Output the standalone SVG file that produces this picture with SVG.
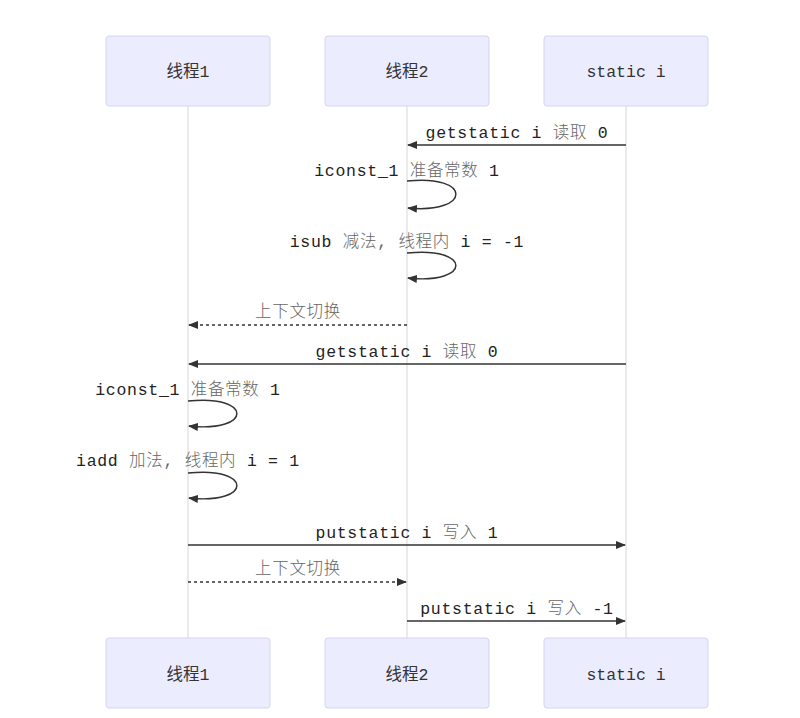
<svg xmlns="http://www.w3.org/2000/svg" width="800" height="718" viewBox="0 0 800 718">
<style>
.box{fill:#ececff;stroke:#d4d4f0;stroke-width:1}
.life{stroke:#d6d6d6;stroke-width:1}
.t{font-family:"Liberation Mono","Noto Sans CJK SC",monospace;font-size:16.5px;fill:#222;text-anchor:middle;letter-spacing:0.7px}
.t .c{fill:#666;font-weight:300}
.h{font-family:"Liberation Mono","Noto Sans CJK SC",monospace;font-size:16.5px;fill:#333;text-anchor:middle}
.m{stroke:#333;stroke-width:1.5;fill:none;marker-end:url(#a)}
.d{stroke-dasharray:3,3}
</style>
<defs><marker id="a" markerWidth="10" markerHeight="8" refX="9" refY="4" orient="auto" markerUnits="userSpaceOnUse"><path d="M0,0L10,4L0,8z" fill="#333"/></marker></defs>
<rect width="800" height="718" fill="#fff"/>
<g id="lifelines">
<line class="life" x1="188" y1="106" x2="188" y2="638"/>
<line class="life" x1="407" y1="106" x2="407" y2="638"/>
<line class="life" x1="626" y1="106" x2="626" y2="638"/>
</g>
<g id="t1-top"><rect class="box" x="106" y="36" width="164" height="70" rx="3"/><text class="h" x="188" y="77">线程1</text></g>
<g id="t2-top"><rect class="box" x="325" y="36" width="164" height="70" rx="3"/><text class="h" x="407" y="77">线程2</text></g>
<g id="s-top"><rect class="box" x="544" y="36" width="164" height="70" rx="3"/><text class="h" x="626" y="77">static i</text></g>
<g id="t1-bot"><rect class="box" x="106" y="638" width="164" height="70" rx="3"/><text class="h" x="188" y="680">线程1</text></g>
<g id="t2-bot"><rect class="box" x="325" y="638" width="164" height="70" rx="3"/><text class="h" x="407" y="680">线程2</text></g>
<g id="s-bot"><rect class="box" x="544" y="638" width="164" height="70" rx="3"/><text class="h" x="626" y="680">static i</text></g>
<g id="connectors">
<path class="m" d="M626,145H408"/>
<path class="m" d="M407,181C472,174 472,214 408,208"/>
<path class="m" d="M407,253C472,246 472,285 408,278"/>
<path class="m d" d="M407,325H189"/>
<path class="m" d="M626,364H189"/>
<path class="m" d="M188,401C253,394 253,433 189,426"/>
<path class="m" d="M188,473C253,466 253,505 189,498"/>
<path class="m" d="M188,545H625"/>
<path class="m d" d="M188,582H406"/>
<path class="m" d="M407,621H625"/>
</g>
<g id="labels">
<text class="t" x="517" y="138">getstatic i <tspan class="c">读取</tspan> 0</text>
<text class="t" x="407" y="176">iconst_1 <tspan class="c">准备常数</tspan> 1</text>
<text class="t" x="407" y="247">isub <tspan class="c">减法, 线程内</tspan> i = -1</text>
<text class="t" x="298" y="317"><tspan class="c">上下文切换</tspan></text>
<text class="t" x="407" y="357">getstatic i <tspan class="c">读取</tspan> 0</text>
<text class="t" x="188" y="395">iconst_1 <tspan class="c">准备常数</tspan> 1</text>
<text class="t" x="188" y="466">iadd <tspan class="c">加法, 线程内</tspan> i = 1</text>
<text class="t" x="407" y="538">putstatic i <tspan class="c">写入</tspan> 1</text>
<text class="t" x="298" y="574"><tspan class="c">上下文切换</tspan></text>
<text class="t" x="517" y="614">putstatic i <tspan class="c">写入</tspan> -1</text>
</g>
</svg>
